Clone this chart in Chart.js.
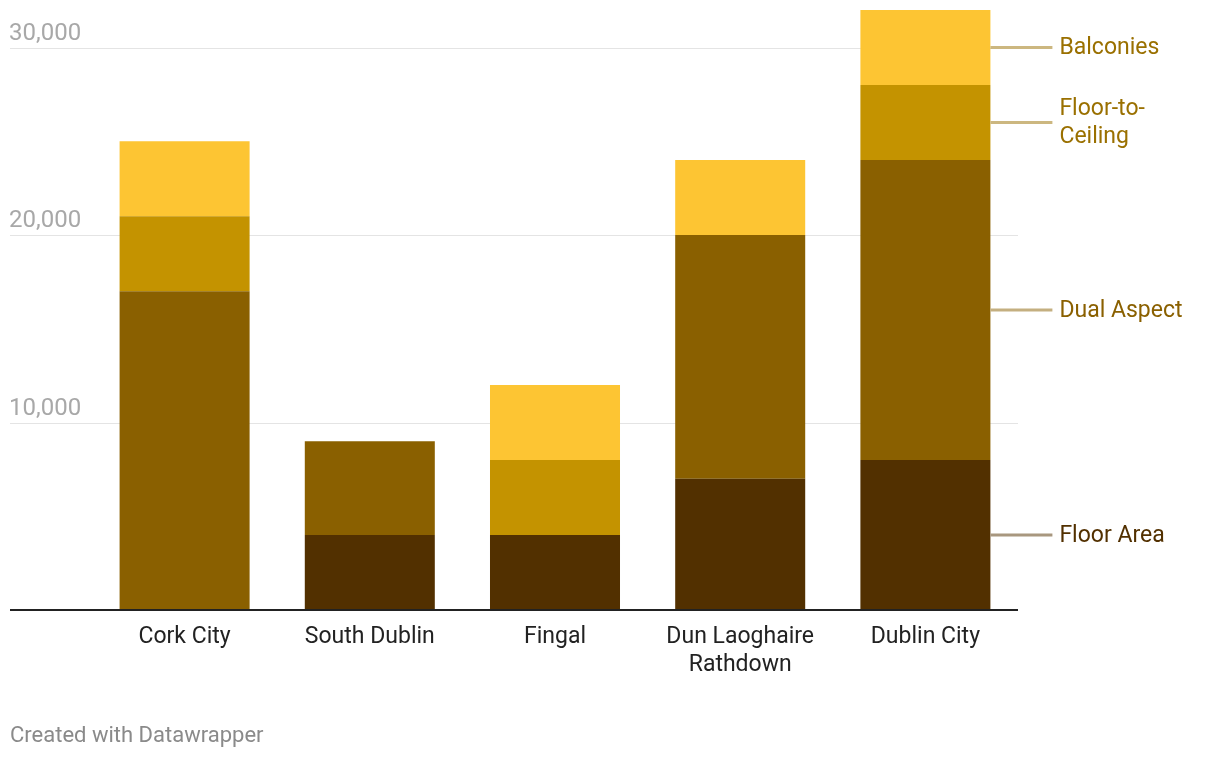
<!DOCTYPE html>
<html>
<head>
<meta charset="utf-8">
<script src="https://cdn.jsdelivr.net/npm/chart.js@4"></script>
<style>
  body { margin: 0; background: #fff; font-family: Roboto, sans-serif; }
  #wrap { position: relative; width: 1220px; height: 758px; }
  #footer { position: absolute; left: 10px; top: 722px; font-size: 22px; line-height: 26px; color: #8a8a8a; }
</style>
</head>
<body>
<div id="wrap">
  <canvas id="chart" width="1220" height="758"></canvas>
  <div id="footer">Created with Datawrapper</div>
</div>
<script>
const categories = ['Cork City', 'South Dublin', 'Fingal', ['Dun Laoghaire', 'Rathdown'], 'Dublin City'];
const seriesNames = ['Floor Area', 'Dual Aspect', 'Floor-to-Ceiling', 'Balconies'];
const seriesLabelLines = [['Floor Area'], ['Dual Aspect'], ['Floor-to-', 'Ceiling'], ['Balconies']];
const floorArea = [0, 4000, 4000, 7000, 8000];
const dualAspect = [17000, 5000, 0, 13000, 16000];
const floorToCeiling = [4000, 0, 4000, 0, 4000];
const balconies = [4000, 0, 4000, 4000, 4000];
const yTicks = [10000, 20000, 30000];

const barColors = ['#523000', '#8a6000', '#c49300', '#fdc533'];
const textColors = ['#523000', '#8a6000', '#9a7000', '#9a7000'];
const lineColors = ['#a8977f', '#c4af80', '#ccb780', '#ccb780'];

const FONT = 'Roboto, sans-serif';

// grid lines + y labels spanning the full width, like Datawrapper
const gridPlugin = {
    id: 'grid',
    beforeDatasetsDraw(chart) {
        const ctx = chart.ctx;
        const y = chart.scales.y;
        const right = chart.chartArea.right;
        ctx.save();
        yTicks.forEach(v => {
            const py = Math.round(y.getPixelForValue(v)) + 0.5;
            ctx.strokeStyle = '#e4e4e4';
            ctx.lineWidth = 1;
            ctx.beginPath();
            ctx.moveTo(10, py);
            ctx.lineTo(right, py);
            ctx.stroke();
            ctx.fillStyle = '#a8a8a8';
            ctx.font = '24px ' + FONT;
            ctx.textAlign = 'left';
            ctx.textBaseline = 'alphabetic';
            ctx.fillText(v.toLocaleString('en-US'), 9, py - 9);
        });
        ctx.restore();
    },
    afterDatasetsDraw(chart) {
        const ctx = chart.ctx;
        const base = chart.scales.y.getPixelForValue(0);
        ctx.save();
        ctx.strokeStyle = '#222';
        ctx.lineWidth = 2;
        ctx.beginPath();
        ctx.moveTo(10, base);
        ctx.lineTo(chart.chartArea.right, base);
        ctx.stroke();

        // series labels on the right, next to the last bar
        const last = categories.length - 1;
        chart.data.datasets.forEach((ds, i) => {
            const el = chart.getDatasetMeta(i).data[last];
            if (!el) return;
            const mid = (el.y + el.base) / 2;
            const x0 = el.x + el.width / 2;
            ctx.strokeStyle = lineColors[i];
            ctx.lineWidth = 3;
            ctx.beginPath();
            ctx.moveTo(x0, mid);
            ctx.lineTo(x0 + 62, mid);
            ctx.stroke();
            ctx.fillStyle = textColors[i];
            ctx.font = '23px ' + FONT;
            ctx.textAlign = 'left';
            ctx.textBaseline = 'middle';
            const lines = seriesLabelLines[i];
            const lh = 28;
            lines.forEach((t, k) => {
                ctx.fillText(t, x0 + 69, mid + (k - (lines.length - 1) / 2) * lh + 1);
            });
        });
        ctx.restore();
    }
};

const seriesData = [floorArea, dualAspect, floorToCeiling, balconies];

new Chart(document.getElementById('chart'), {
    type: 'bar',
    data: {
        labels: categories,
        datasets: seriesNames.map((name, i) => ({
            label: name,
            data: seriesData[i],
            backgroundColor: barColors[i],
            borderWidth: 0,
            barPercentage: 0.702,
            categoryPercentage: 1.0
        }))
    },
    options: {
        responsive: false,
        animation: false,
        layout: { padding: { left: 92, right: 202, top: 10, bottom: 0 } },
        plugins: {
            legend: { display: false },
            tooltip: { enabled: false }
        },
        scales: {
            x: {
                stacked: true,
                grid: { display: false },
                border: { display: false },
                ticks: {
                    color: '#222',
                    font: { family: FONT, size: 23, lineHeight: 28 / 23 },
                    padding: 5,
                    maxRotation: 0,
                    autoSkip: false
                },
                afterFit(scale) { scale.height = 148; }
            },
            y: {
                stacked: true,
                display: false,
                min: 0,
                max: 32000
            }
        }
    },
    plugins: [gridPlugin]
});
</script>
</body>
</html>
